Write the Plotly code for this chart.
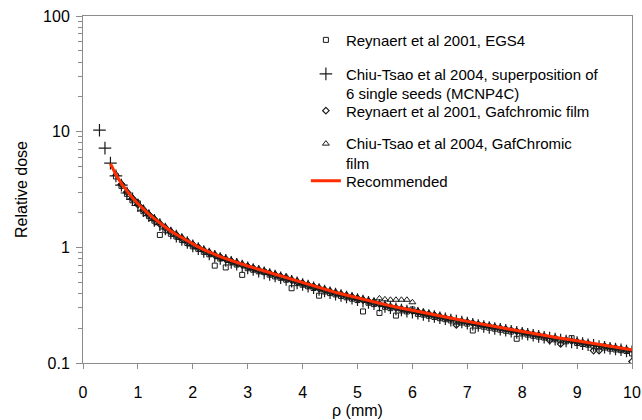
import plotly.graph_objects as go

# ---------------- data ----------------
rec_rho = [0.5,0.6,0.7,0.8,0.9,1.0,1.1,1.2,1.3,1.4,1.5,1.6,1.7,1.8,1.9,2.0,2.1,2.2,2.3,2.4,2.5,2.6,2.7,2.8,2.9,3.0,
           3.1,3.2,3.3,3.4,3.5,3.6,3.7,3.8,3.9,4.0,4.1,4.2,4.3,4.4,4.5,4.6,4.7,4.8,4.9,5.0,5.1,5.2,5.3,5.4,5.5,
           5.6,5.7,5.8,5.9,6.0,6.1,6.2,6.3,6.4,6.5,6.6,6.7,6.8,6.9,7.0,7.1,7.2,7.3,7.4,7.5,7.6,7.7,7.8,7.9,8.0,
           8.1,8.2,8.3,8.4,8.5,8.6,8.7,8.8,8.9,9.0,9.1,9.2,9.3,9.4,9.5,9.6,9.7,9.8,9.9,10.0]
rec_dose = [5.30,4.25,3.56,3.05,2.68,2.38,2.14,1.94,1.77,1.62,1.49,1.38,1.29,1.21,1.14,1.07,1.01,0.955,0.909,0.869,
            0.832,0.800,0.769,0.741,0.715,0.690,0.667,0.645,0.625,0.605,0.586,0.566,0.547,0.528,0.511,0.495,0.479,
            0.463,0.448,0.434,0.420,0.408,0.397,0.386,0.376,0.366,0.356,0.346,0.337,0.328,0.320,0.312,0.305,0.298,
            0.291,0.285,0.279,0.273,0.267,0.261,0.255,0.250,0.244,0.239,0.234,0.229,0.224,0.219,0.215,0.211,0.207,
            0.203,0.199,0.195,0.191,0.188,0.184,0.180,0.177,0.173,0.170,0.167,0.164,0.161,0.158,0.156,0.153,0.150,
            0.147,0.145,0.142,0.139,0.137,0.135,0.132,0.130]

mcnp_rho = [0.3,0.4] + rec_rho
mcnp_dose = [10.3,7.2,5.35,4.15,3.45,2.95,2.60,2.30,2.07,1.88,1.71,1.57,1.44,1.33,1.25,1.17,1.10,1.03,0.975,0.92,
             0.875,0.838,0.80,0.772,0.741,0.714,0.689,0.665,0.643,0.622,0.602,0.583,0.565,0.546,0.527,0.509,0.493,
             0.477,0.462,0.447,0.432,0.419,0.405,0.394,0.383,0.372,0.363,0.353,0.343,0.334,0.325,0.316,0.309,0.301,
             0.294,0.287,0.281,0.275,0.269,0.263,0.257,0.252,0.246,0.241,0.235,0.231,0.226,0.221,0.216,0.211,0.207,
             0.203,0.199,0.196,0.192,0.188,0.184,0.181,0.177,0.174,0.170,0.167,0.164,0.161,0.158,0.155,0.152,0.150,
             0.147,0.144,0.142,0.139,0.137,0.134,0.132,0.130,0.127,0.125]

egs_rho = rec_rho[1:]
egs_dose = [4.10,3.40,2.90,2.55,2.40,2.05,1.86,1.70,1.28,1.42,1.31,1.24,1.16,1.09,1.02,0.97,0.915,0.87,0.695,0.80,
            0.67,0.74,0.71,0.578,0.66,0.64,0.62,0.61,0.58,0.56,0.545,0.525,0.443,0.49,0.475,0.46,0.445,0.382,0.415,
            0.402,0.392,0.38,0.37,0.36,0.35,0.279,0.332,0.323,0.271,0.306,0.298,0.257,0.285,0.279,0.29,0.266,0.262,
            0.256,0.25,0.244,0.239,0.233,0.228,0.224,0.219,0.191,0.21,0.206,0.202,0.198,0.194,0.19,0.187,0.162,0.18,
            0.176,0.172,0.169,0.166,0.163,0.16,0.157,0.154,0.164,0.149,0.146,0.144,0.141,0.139,0.136,0.133,0.131,
            0.129,0.127,0.121]

film_r_rho = rec_rho[2:]
film_r_dose = [3.50,3.00,2.64,2.34,2.10,1.91,1.74,1.59,1.47,1.36,1.27,1.19,1.12,1.05,0.995,0.94,0.895,0.855,0.82,
               0.787,0.757,0.73,0.704,0.68,0.656,0.635,0.615,0.595,0.577,0.557,0.539,0.52,0.503,0.487,0.472,0.456,
               0.441,0.427,0.414,0.402,0.391,0.38,0.37,0.36,0.35,0.341,0.332,0.323,0.315,0.307,0.30,0.294,0.287,
               0.281,0.275,0.269,0.263,0.257,0.251,0.246,0.24,0.213,0.23,0.226,0.221,0.216,0.212,0.208,0.204,0.2,
               0.196,0.192,0.188,0.185,0.181,0.177,0.174,0.17,0.157,0.164,0.146,0.158,0.155,0.153,0.15,0.147,0.128,
               0.128,0.14,0.137,0.135,0.132,0.13,0.103]

film_c_rho = rec_rho[1:61]
film_c_dose = [4.30,3.60,3.08,2.72,2.41,2.17,1.96,1.79,1.64,1.51,1.40,1.31,1.23,1.15,1.08,1.02,0.965,0.918,0.878,
               0.84,0.808,0.777,0.748,0.722,0.697,0.674,0.652,0.632,0.611,0.592,0.572,0.56,0.533,0.516,0.5,0.484,
               0.468,0.452,0.438,0.424,0.412,0.401,0.39,0.38,0.37,0.36,0.35,0.345,0.362,0.355,0.352,0.352,0.352,
               0.352,0.335,0.283,0.277,0.27,0.264,0.258]

names = ["Reynaert et al 2001, EGS4",
         "Chiu-Tsao et al 2004, superposition of<br>6 single seeds (MCNP4C)",
         "Reynaert et al 2001, Gafchromic film",
         "Chiu-Tsao et al 2004, GafChromic<br>film",
         "Recommended"]

y_ticks = [0.1, 1, 10, 100]
y_ticktext = ["0.1", "1", "10", "100"]
y_minor = [0.2,0.3,0.4,0.5,0.6,0.7,0.8,0.9,2,3,4,5,6,7,8,9,20,30,40,50,60,70,80,90]

# ---------------- figure ----------------
FONT = "Liberation Sans, Arial, sans-serif"
INK = "#1a1a1a"
AX = "#8c8c8c"

fig = go.Figure()
fig.add_trace(go.Scatter(x=egs_rho, y=egs_dose, mode="markers", name=names[0], legend="legend",
                         marker=dict(symbol="square-open", size=5, color=INK, line=dict(width=1, color=INK))))
fig.add_trace(go.Scatter(x=mcnp_rho, y=mcnp_dose, mode="markers", name=names[1], legend="legend2",
                         marker=dict(symbol="cross-thin-open", size=9, color=INK, line=dict(width=1.2, color=INK))))
fig.add_trace(go.Scatter(x=film_r_rho, y=film_r_dose, mode="markers", name=names[2], legend="legend3",
                         marker=dict(symbol="diamond-open", size=5, color=INK, line=dict(width=1.2, color=INK))))
fig.add_trace(go.Scatter(x=film_c_rho, y=film_c_dose, mode="markers", name=names[3], legend="legend4",
                         marker=dict(symbol="triangle-up-open", size=6, color=INK, line=dict(width=1, color=INK))))
fig.add_trace(go.Scatter(x=rec_rho, y=rec_dose, mode="lines", name=names[4], legend="legend5",
                         line=dict(color="#ff2d00", width=3)))

leg_common = dict(x=0.406, xanchor="left", yanchor="top", valign="top",
                  bgcolor="rgba(0,0,0,0)", borderwidth=0,
                  font=dict(family=FONT, size=15, color="black"))
fig.update_layout(
    width=642, height=420,
    margin=dict(l=83, r=10, t=16, b=57, autoexpand=False),
    paper_bgcolor="white", plot_bgcolor="white",
    font=dict(family=FONT, color="black", size=16),
    showlegend=True,
    legend=dict(y=0.978, **leg_common),
    legend2=dict(y=0.880, **leg_common),
    legend3=dict(y=0.774, **leg_common),
    legend4=dict(y=0.679, **leg_common),
    legend5=dict(y=0.572, **leg_common),
)
fig.update_xaxes(range=[0, 10], dtick=1, tick0=0, showgrid=False, zeroline=False, automargin=False,
                 showline=True, linecolor=AX, linewidth=1, mirror=True,
                 ticks="outside", ticklen=5, tickcolor=AX, ticklabelstandoff=10,
                 ticklabeloverflow="allow",
                 tickfont=dict(family=FONT, size=16, color="black"),
                 title=dict(text="ρ (mm)", font=dict(family=FONT, size=16), standoff=4))
fig.update_yaxes(type="log", range=[-1, 2], tickvals=y_ticks, ticktext=y_ticktext,
                 showgrid=False, zeroline=False, automargin=False,
                 showline=True, linecolor=AX, linewidth=1, mirror=True,
                 ticks="outside", ticklen=6, tickcolor=AX, ticklabelstandoff=3,
                 ticklabeloverflow="allow",
                 minor=dict(tickvals=y_minor, ticks="outside", ticklen=4, tickcolor=AX, showgrid=False),
                 tickfont=dict(family=FONT, size=16, color="black"),
                 title=dict(text="Relative dose", font=dict(family=FONT, size=16), standoff=11))

# remove the default page margin so the 642x420 figure fills the window exactly
fig.write_html("out.html",
               config={"displayModeBar": False},
               post_script="document.body.style.margin='0';document.body.style.overflow='hidden';")
